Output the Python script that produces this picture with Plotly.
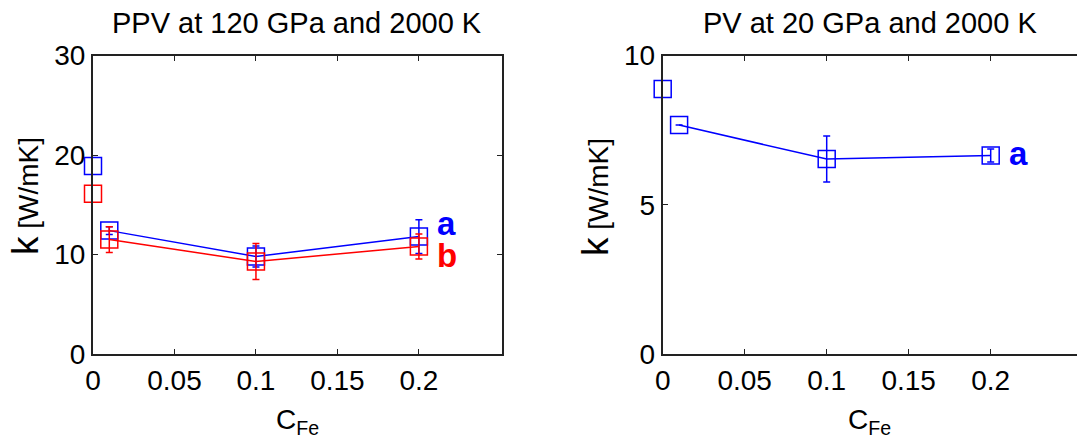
import plotly.graph_objects as go

# ---- data ----
cfe = [0.01, 0.1, 0.2]
cfe0 = [0.0]

ppv_a = [12.4, 9.8, 11.8]
ppv_a_err = [0.4, 1.05, 1.7]
ppv_a0 = [18.9]

ppv_b = [11.5, 9.3, 10.8]
ppv_b_err = [1.3, 1.8, 1.25]
ppv_b0 = [16.1]

pv_a = [7.67, 6.53, 6.65]
pv_a_err = [0.0, 0.77, 0.22]
pv_a0 = [8.88]

left_yticks = [0, 10, 20, 30]
right_yticks = [0, 5, 10]
xticks = [0, 0.05, 0.1, 0.15, 0.2]
xticklabels = ["0", "0.05", "0.1", "0.15", "0.2"]

BLUE = "#0000FF"
RED = "#FF0000"
FONT = "Liberation Sans, Arial, Helvetica, sans-serif"

fig = go.Figure()

def add_series(x, y, err, color, xa, ya, lines=True):
    fig.add_trace(go.Scatter(
        x=x, y=y, xaxis=xa, yaxis=ya,
        mode="lines+markers" if lines else "markers",
        line=dict(color=color, width=1.5),
        marker=dict(symbol="square-open", size=17, color=color,
                    line=dict(color=color, width=1.5)),
        error_y=dict(type="data", array=err, visible=err is not None,
                     color=color, thickness=1.5, width=3.5),
        showlegend=False, cliponaxis=False,
    ))

add_series(cfe, ppv_a, ppv_a_err, BLUE, "x", "y")
add_series(cfe, ppv_b, ppv_b_err, RED, "x", "y")
add_series(cfe0, ppv_a0, None, BLUE, "x", "y", lines=False)
add_series(cfe0, ppv_b0, None, RED, "x", "y", lines=False)

add_series(cfe, pv_a, pv_a_err, BLUE, "x2", "y2")
add_series(cfe0, pv_a0, None, BLUE, "x2", "y2", lines=False)

W, H = 1077, 443
ydom = [1 - 354 / H, 1 - 55.5 / H]
axis_common = dict(
    showline=True, linecolor="#222222", linewidth=2,
    ticks="inside", ticklen=5, tickwidth=1.2, tickcolor="#222222",
    showgrid=False, zeroline=False, automargin=False,
    tickfont=dict(family=FONT, size=28, color="black"),
)

fig.update_layout(
    width=W, height=H,
    margin=dict(l=0, r=0, t=0, b=0, pad=0),
    paper_bgcolor="white", plot_bgcolor="white",
    font=dict(family=FONT, color="black"),
    xaxis=dict(domain=[93 / W, 502 / W], range=[0, 0.251], anchor="y",
               tickvals=xticks, ticktext=xticklabels, mirror="ticks",
               **axis_common),
    yaxis=dict(domain=ydom, range=[0, 30], anchor="x",
               tickvals=left_yticks, mirror="ticks", **axis_common),
    xaxis2=dict(domain=[662.7 / W, 1.0], range=[0, (W - 662.7) / 1640], anchor="y2",
                tickvals=xticks, ticktext=xticklabels, mirror="ticks",
                **axis_common),
    yaxis2=dict(domain=ydom, range=[0, 10], anchor="x2",
                tickvals=right_yticks, mirror=False, **axis_common),
)

def pann(text, px, py, size=28, color="black", angle=0):
    return dict(text=text, x=px / W, y=1 - py / H, xref="paper", yref="paper",
                xanchor="center", yanchor="middle", showarrow=False,
                textangle=angle, font=dict(family=FONT, size=size, color=color))

ann = []
# titles
ann.append(pann("PPV at 120 GPa and 2000 K", 297, 23, size=29))
ann.append(pann("PV at 20 GPa and 2000 K", 870, 23, size=29))
# y titles
ytitle = "<span style='font-size:37px'>k</span> [W/mK]"
ann.append(pann(ytitle, 25, 196, angle=-90))
ann.append(pann(ytitle, 595, 197, angle=-90))
# x titles
xtitle = "C<sub>Fe</sub>"
ann.append(pann(xtitle, 297, 421))
ann.append(pann(xtitle, 869, 421))
# series letters
for txt, xr, yr, xv, yv, col in [("a", "x", "y", 0.217, 13.1, BLUE),
                                   ("b", "x", "y", 0.217, 9.9, RED),
                                   ("a", "x2", "y2", 0.217, 6.73, BLUE)]:
    ann.append(dict(text=f"<b>{txt}</b>", x=xv, y=yv, xref=xr, yref=yr,
                    xanchor="center", yanchor="middle", showarrow=False,
                    font=dict(family=FONT, size=33, color=col)))
fig.update_layout(annotations=ann)

fig.write_html("out.html")
